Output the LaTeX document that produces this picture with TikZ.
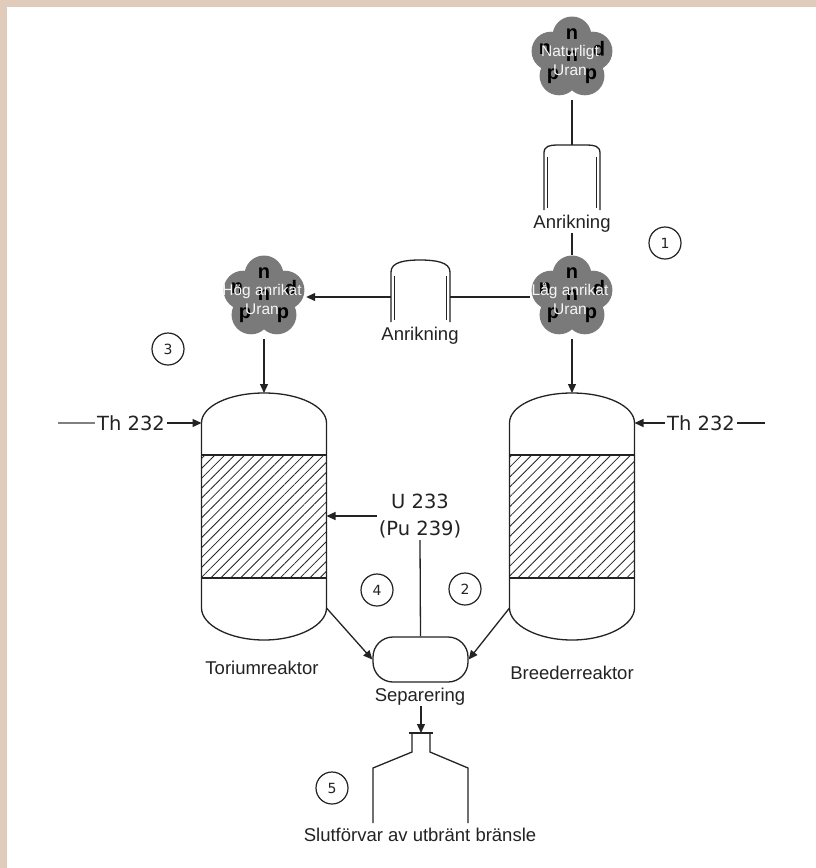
\documentclass[tikz,border=0pt]{standalone}
\usepackage{fontspec}
\setmainfont{Liberation Sans}
\newfontfamily\djv{DejaVu Sans}
\usetikzlibrary{arrows.meta,patterns.meta}
\definecolor{beige}{RGB}{225,203,186}
\definecolor{clgray}{RGB}{122,122,122}
\definecolor{ink}{RGB}{35,35,35}
\tikzset{
  ln/.style={line width=1.3pt, draw=ink},
  arr/.style={ln, -{Triangle[length=9pt,width=8pt]}},
  lbl/.style={font=\fontsize{18.5}{21}\selectfont, text=ink, inner sep=0pt},
  mono/.style={font=\djv\fontsize{19.5}{27}\selectfont, text=ink, inner sep=2pt},
  num/.style={circle, draw=ink, line width=1.2pt, minimum size=32pt, inner sep=0pt, font=\djv\fontsize{14}{16}\selectfont, text=ink},
  letter/.style={font=\bfseries\fontsize{20}{20}\selectfont, text=black, inner sep=0pt},
  cltext/.style={font=\fontsize{15.5}{19}\selectfont, text=white!92!gray, align=center, inner sep=0pt},
  hold/.style={circle, minimum size=84pt, inner sep=0pt},
  atom/.pic={
    \fill[clgray] (0,0) circle[radius=24];
    \foreach \a in {-90,-18,54,126,198} \fill[clgray] (\a:22) circle[radius=19.5];
    \node[letter] (-n1) at (0,-24) {n};
    \node[letter] (-n2) at (0,-2) {n};
    \node[letter] (-n3) at (-27,-9) {n};
    \node[letter, rotate=180] (-p1) at (27,-9) {p};
    \node[letter] (-p2) at (-19,18) {p};
    \node[letter] (-p3) at (19,18) {p};
    \node[cltext] (-t) at (-2,2) {#1\\Uran};
  }
}
\begin{document}
\begin{tikzpicture}[x=1pt,y=-1pt]
\useasboundingbox (0,0) rectangle (816,868);
\fill[beige] (0,0) rectangle (816,868);
\fill[white] (7,7) rectangle (816,868);

% uranium clusters
\pic (nat) at (572,58) {atom={Naturligt}};
\pic (lg) at (572,297) {atom={Låg anrikat}};
\pic (hg) at (264,297) {atom={Hög anrikat}};
\node[hold] (natc) at (572,58) {};
\node[hold] (lag) at (572,297) {};
\node[hold] (hog) at (264,297) {};

% top enrichment vessel
\coordinate (a1top) at (572,145);
\draw[ln] (544,210) -- (544,153) .. controls (544,146) and (550,145) .. (557,145) -- (587,145) .. controls (594,145) and (600,146) .. (600,153) -- (600,210);
\draw[ln] (547.5,157) -- (547.5,208);
\draw[ln] (596.5,157) -- (596.5,208);
\node[lbl] (anr1) at (572,224) {Anrikning};
\draw[ln] (natc) -- (a1top);
\draw[ln] (anr1.south) -- (lag.north);
\node[num] (c1) at (665,243) {1};

% middle enrichment vessel
\coordinate (mr) at (450,297);
\coordinate (ml) at (391,297);
\draw[ln] (391,322) -- (391,272) .. controls (391,262) and (405,260) .. (420,260) .. controls (435,260) and (450,262) .. (450,272) -- (450,322);
\draw[ln] (394.5,276) -- (394.5,320);
\draw[ln] (446.5,276) -- (446.5,320);
\node[lbl] (anr2) at (420,336) {Anrikning};
\draw[ln] (lag) -- (mr);
\draw[arr] (ml) -- (hog);
\node[num] (c3) at (168,349) {3};

% reactors
\foreach \cx in {264,572} {
  \fill[pattern={Lines[angle=45,distance=7pt,line width=0.8pt]}, pattern color=ink] ({\cx-62.5},455) rectangle ({\cx+62.5},578);
  \draw[ln] ({\cx-62.5},455) -- ({\cx+62.5},455) ({\cx-62.5},578) -- ({\cx+62.5},578);
  \draw[ln] ({\cx-62.5},608) -- ({\cx-62.5},423) .. controls ({\cx-62.5},406) and ({\cx-34.5},393) .. (\cx,393) .. controls ({\cx+34.5},393) and ({\cx+62.5},406) .. ({\cx+62.5},423) -- ({\cx+62.5},608) .. controls ({\cx+62.5},625) and ({\cx+34.5},640) .. (\cx,640) .. controls ({\cx-34.5},640) and ({\cx-62.5},625) .. ({\cx-62.5},608) -- cycle;
}
\coordinate (tortop) at (264,393);
\coordinate (bretop) at (572,393);
\coordinate (torl) at (201.5,423);
\coordinate (brer) at (634.5,423);
\coordinate (torr) at (326.5,516);
\coordinate (torbr) at (326.5,608);
\coordinate (brebl) at (509.5,608);
\draw[arr] (hog) -- (tortop);
\draw[arr] (lag) -- (bretop);

% Th 232 feeds
\node[mono] (thl) at (131,423) {Th 232};
\coordinate (thl0) at (58,423);
\draw[ln, draw=gray] (thl0) -- (thl.west);
\draw[arr] (thl.east) -- (torl);
\node[mono] (thr) at (701,423) {Th 232};
\coordinate (thr0) at (765,423);
\draw[arr] (thr.west) -- (brer);
\draw[ln] (thr.east) -- (thr0);

% U 233
\node[mono, align=center] (u233) at (420,516) {U 233\\(Pu 239)};
\draw[arr] (u233.west) -- (torr);

\node[lbl] (torlbl) at (262,668) {Toriumreaktor};
\node[lbl] (brelbl) at (572,673) {Breederreaktor};
\node[num] (c4) at (377,590) {4};
\node[num] (c2) at (465,589) {2};

% separation
\node[draw=ink, line width=1.3pt, rounded corners=20pt, minimum width=95pt, minimum height=45pt, inner sep=0pt] (sep) at (420.5,659.5) {};
\draw[ln] (u233.south) -- (sep.north);
\draw[arr] (torbr) -- (sep.west);
\draw[arr] (brebl) -- (sep.east);
\node[lbl] (seplbl) at (420,697) {Separering};
\coordinate (fintop) at (421,733);
\draw[arr] (seplbl.south -| fintop) -- (fintop);

% final storage
\draw[ln] (373,823) -- (373,768) -- (412,752) -- (412,733) -- (430,733) -- (430,752) -- (468,768) -- (468,823);
\draw[line width=2.6pt, draw=ink] (409,733) -- (433,733);
\node[lbl] (slut) at (420,835) {Slutförvar av utbränt bränsle};
\node[num] (c5) at (332,788) {5};
\end{tikzpicture}
\end{document}
